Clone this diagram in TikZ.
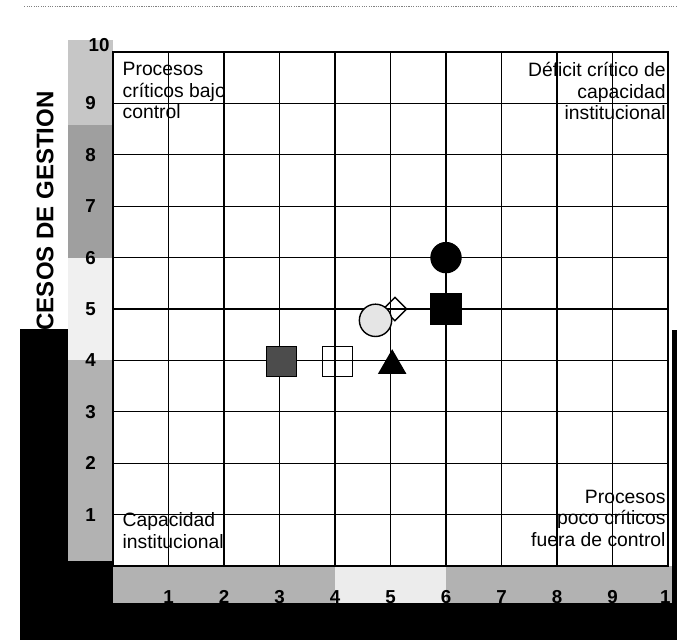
\documentclass[tikz,border=0pt]{standalone}
\usepackage{fontspec}
\setmainfont{Liberation Sans}
\usetikzlibrary{shapes.geometric}

\tikzset{
  ticklab/.style={font=\fontsize{16}{17}\selectfont\bfseries, inner sep=0pt},
  corner/.style={font=\fontsize{16.5}{18.5}\selectfont, inner sep=0pt},
  sym/.style={draw, line width=1.2pt, inner sep=0pt, minimum size=0.9cm}
}

\begin{document}
\begin{tikzpicture}[x=1.665cm,y=1.542cm]
\useasboundingbox (-2.036,-1.44) rectangle (10.162,11.012);
%\draw (0,0) -- (10,0);
%\draw (0,0) -- (0,10);
% scan line
\draw[gray, line width=1pt, densely dotted] (-1.6,10.88) -- (10.162,10.88);
% shaded bands
\fill[gray!45] (-0.81,8.58) rectangle (0,10.23);
\fill[gray!75] (-0.81,6) rectangle (0,8.58);
\fill[gray!12] (-0.81,4) rectangle (0,6);
\fill[gray!60] (-0.81,0.1) rectangle (0,4);
\fill[gray!60] (0,-0.72) rectangle (4,0);
\fill[gray!15] (4,-0.72) rectangle (6,0);
\fill[gray!60] (6,-0.72) rectangle (10.07,0);
\node[rotate=90, anchor=west, inner sep=0pt, font=\fontsize{20.5}{22}\selectfont\bfseries] (ytitle) at (-1.225,4.58) {CESOS DE GESTION};
% black frame
\fill[black] (-1.676,-1.44) rectangle (-0.81,4.61);
\fill[black] (-1.676,-1.44) rectangle (0,0.1);
\fill[black] (-1.676,-1.44) rectangle (10.162,-0.72);
\fill[black] (10.07,-1.44) rectangle (10.162,4.59);
% grid
\draw[line width=1.1pt, step=1] (0,0) grid (10,10);
\draw[line width=1.3pt] (0,0) rectangle (10,10);
\foreach \k in {1,...,9} {
  \node[ticklab] (yl\k) at (-0.405,\k) {\k};
  \node[ticklab] (xl\k) at (\k,-0.6) {\k};
}
\node[ticklab] (yl10) at (-0.25,10.13) {10};
\node[ticklab] (xl10) at (9.95,-0.6) {1};
% quadrant texts
\node[corner, anchor=base west, align=left] (tl) at (0.17,8.7) {Procesos\\críticos bajo\\control};
\node[corner, anchor=base east, align=right] (tr) at (9.96,8.68) {Déficit crítico de\\capacidad\\institucional};
\node[corner, anchor=base west, align=left] (bl) at (0.17,0.35) {Capacidad\\institucional};
\node[corner, anchor=base east, align=right] (br) at (9.96,0.38) {Procesos\\poco críticos\\fuera de control};
% symbols
\node[sym, fill=black!70] (sqa) at (3.04,3.98) {};
\node[sym] (sqb) at (4.04,3.98) {};
\node[sym, regular polygon, regular polygon sides=3, fill=black] (tri) at (5.03,3.9) {};
\node[sym, diamond, minimum size=0.72cm] (dia) at (5.08,5) {};
\node[sym, circle, fill=gray!20, minimum size=0.97cm] (circa) at (4.73,4.78) {};
\node[sym, circle, fill=black] (circb) at (6,6) {};
\node[sym, fill=black] (sqc) at (6,5) {};
\end{tikzpicture}
\end{document}
